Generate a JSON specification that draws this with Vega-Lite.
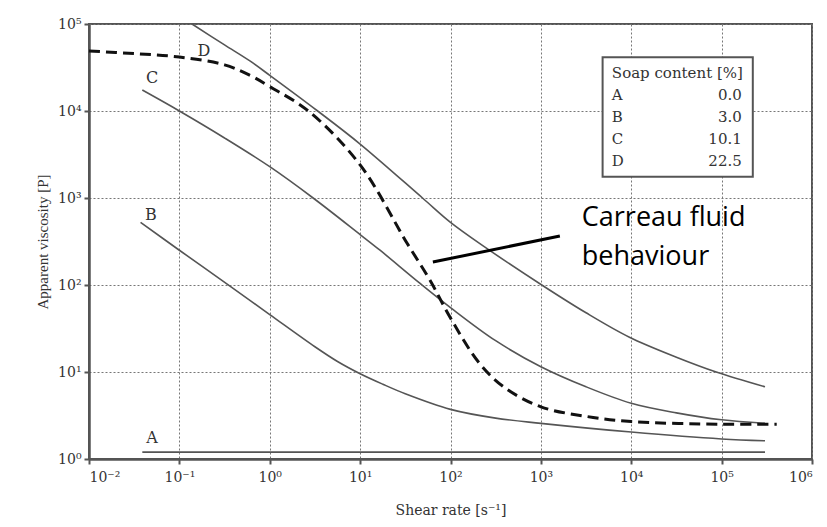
{
  "$schema": "https://vega.github.io/schema/vega-lite/v6.json",
  "width": 723,
  "height": 435,
  "autosize": {"type": "none"},
  "padding": {"left": 89, "top": 24, "right": 15, "bottom": 68},
  "background": "white",
  "config": {
    "view": {"stroke": "#555", "strokeWidth": 2},
    "axis": {
      "labelFont": "DejaVu Serif",
      "labelFontSize": 14,
      "labelColor": "#333",
      "titleFont": "Liberation Serif",
      "titleFontSize": 15,
      "titleFontWeight": "normal",
      "titleColor": "#333",
      "domainColor": "#555",
      "domainWidth": 2.5,
      "tickColor": "#555",
      "tickWidth": 2,
      "tickSize": 5,
      "grid": true,
      "gridColor": "#777",
      "gridDash": [2, 2],
      "gridWidth": 1
    }
  },
  "datasets": {
    "curves": [
      {"series": "A", "x": 0.0389, "y": 1.2},
      {"series": "A", "x": 302000, "y": 1.2},
      {"series": "B", "x": 0.0372, "y": 525},
      {"series": "B", "x": 0.1, "y": 251},
      {"series": "B", "x": 0.363, "y": 97},
      {"series": "B", "x": 1, "y": 45.7},
      {"series": "B", "x": 3.16, "y": 19.5},
      {"series": "B", "x": 5.62, "y": 13.2},
      {"series": "B", "x": 10, "y": 9.55},
      {"series": "B", "x": 17.8, "y": 7.24},
      {"series": "B", "x": 31.6, "y": 5.62},
      {"series": "B", "x": 100, "y": 3.72},
      {"series": "B", "x": 316, "y": 2.95},
      {"series": "B", "x": 1000, "y": 2.57},
      {"series": "B", "x": 10000, "y": 2.04},
      {"series": "B", "x": 100000, "y": 1.70},
      {"series": "B", "x": 302000, "y": 1.62},
      {"series": "C", "x": 0.0389, "y": 17400},
      {"series": "C", "x": 0.1, "y": 10000},
      {"series": "C", "x": 0.316, "y": 4900},
      {"series": "C", "x": 1, "y": 2290},
      {"series": "C", "x": 3.02, "y": 1000},
      {"series": "C", "x": 10, "y": 380},
      {"series": "C", "x": 16.6, "y": 251},
      {"series": "C", "x": 45.7, "y": 105},
      {"series": "C", "x": 100, "y": 55},
      {"series": "C", "x": 316, "y": 22.9},
      {"series": "C", "x": 1000, "y": 11.5},
      {"series": "C", "x": 3162, "y": 6.76},
      {"series": "C", "x": 10000, "y": 4.37},
      {"series": "C", "x": 31600, "y": 3.39},
      {"series": "C", "x": 100000, "y": 2.82},
      {"series": "C", "x": 302000, "y": 2.57},
      {"series": "D", "x": 0.138, "y": 100000},
      {"series": "D", "x": 0.316, "y": 57500},
      {"series": "D", "x": 0.603, "y": 37600},
      {"series": "D", "x": 1, "y": 25700},
      {"series": "D", "x": 3.39, "y": 10000},
      {"series": "D", "x": 10, "y": 4170},
      {"series": "D", "x": 49, "y": 1000},
      {"series": "D", "x": 100, "y": 525},
      {"series": "D", "x": 245, "y": 269},
      {"series": "D", "x": 1023, "y": 100},
      {"series": "D", "x": 3162, "y": 47.9},
      {"series": "D", "x": 9550, "y": 25.1},
      {"series": "D", "x": 31600, "y": 14.8},
      {"series": "D", "x": 87100, "y": 10},
      {"series": "D", "x": 302000, "y": 6.76}
    ],
    "carreau": [
      {"x": 0.01, "y": 49000},
      {"x": 0.0316, "y": 45700},
      {"x": 0.1, "y": 41700},
      {"x": 0.316, "y": 33900},
      {"x": 0.603, "y": 25700},
      {"x": 1, "y": 19100},
      {"x": 2.75, "y": 9770},
      {"x": 10, "y": 2400},
      {"x": 33.1, "y": 302},
      {"x": 58.9, "y": 115},
      {"x": 100, "y": 41.7},
      {"x": 209, "y": 12.6},
      {"x": 398, "y": 6.61},
      {"x": 1000, "y": 3.98},
      {"x": 3162, "y": 3.09},
      {"x": 10000, "y": 2.69},
      {"x": 100000, "y": 2.51},
      {"x": 407000, "y": 2.51}
    ],
    "curveLabels": [
      {"t": "A", "x": 0.0498, "y": 1.74},
      {"t": "B", "x": 0.0485, "y": 638},
      {"t": "C", "x": 0.0498, "y": 23900},
      {"t": "D", "x": 0.187, "y": 48900}
    ],
    "annotLine": [{"x": 63.8, "y": 183.6, "x2": 1622, "y2": 365.6}],
    "annotText": [
      {"t": "Carreau fluid", "x": 2838, "y": 476},
      {"t": "behaviour", "x": 2838, "y": 170}
    ],
    "legendBox": [{"x": 4820, "x2": 221300, "y": 41400, "y2": 1758}],
    "legendLeft": [
      {"t": "Soap content [%]", "x": 6100, "y": 23950},
      {"t": "A", "x": 6100, "y": 13370},
      {"t": "B", "x": 6100, "y": 7480},
      {"t": "C", "x": 6100, "y": 4180},
      {"t": "D", "x": 6100, "y": 2335}
    ],
    "legendRight": [
      {"t": "0.0", "x": 167100, "y": 13370},
      {"t": "3.0", "x": 167100, "y": 7480},
      {"t": "10.1", "x": 167100, "y": 4180},
      {"t": "22.5", "x": 167100, "y": 2335}
    ]
  },
  "layer": [
    {
      "data": {"name": "curves"},
      "mark": {"type": "line", "color": "#555", "strokeWidth": 1.6, "interpolate": "catmull-rom"},
      "encoding": {
        "x": {
          "field": "x", "type": "quantitative",
          "scale": {"type": "log", "domain": [0.01, 1000000], "nice": false},
          "axis": {
            "values": [0.01, 0.1, 1, 10, 100, 1000, 10000, 100000, 1000000],
            "labelExpr": "['10⁻²','10⁻¹','10⁰','10¹','10²','10³','10⁴','10⁵','10⁶'][round(log(datum.value)/LN10)+2]",
            "title": "Shear rate [s⁻¹]",
            "titleFont": "DejaVu Serif",
            "titleFontSize": 14,
            "labelPadding": 6,
            "titlePadding": 19
          }
        },
        "y": {
          "field": "y", "type": "quantitative",
          "scale": {"type": "log", "domain": [1, 100000], "nice": false},
          "axis": {
            "values": [1, 10, 100, 1000, 10000, 100000],
            "labelExpr": "['10⁰','10¹','10²','10³','10⁴','10⁵'][round(log(datum.value)/LN10)]",
            "title": "Apparent viscosity [P]",
            "labelPadding": 3,
            "titlePadding": 7
          }
        },
        "detail": {"field": "series"}
      }
    },
    {
      "data": {"name": "carreau"},
      "mark": {"type": "line", "color": "#111", "strokeWidth": 3, "strokeDash": [11, 6], "interpolate": "catmull-rom"},
      "encoding": {
        "x": {"field": "x", "type": "quantitative"},
        "y": {"field": "y", "type": "quantitative"}
      }
    },
    {
      "data": {"name": "annotLine"},
      "mark": {"type": "rule", "color": "#000", "strokeWidth": 3},
      "encoding": {
        "x": {"field": "x", "type": "quantitative"},
        "y": {"field": "y", "type": "quantitative"},
        "x2": {"field": "x2"},
        "y2": {"field": "y2"}
      }
    },
    {
      "data": {"name": "legendBox"},
      "mark": {"type": "rect", "fill": "white", "stroke": "#555", "strokeWidth": 2},
      "encoding": {
        "x": {"field": "x", "type": "quantitative"},
        "y": {"field": "y", "type": "quantitative"},
        "x2": {"field": "x2"},
        "y2": {"field": "y2"}
      }
    },
    {
      "data": {"name": "legendLeft"},
      "mark": {"type": "text", "align": "left", "baseline": "alphabetic", "font": "DejaVu Serif", "fontSize": 15, "color": "#333"},
      "encoding": {
        "x": {"field": "x", "type": "quantitative"},
        "y": {"field": "y", "type": "quantitative"},
        "text": {"field": "t"}
      }
    },
    {
      "data": {"name": "legendRight"},
      "mark": {"type": "text", "align": "right", "baseline": "alphabetic", "font": "DejaVu Serif", "fontSize": 15, "color": "#333"},
      "encoding": {
        "x": {"field": "x", "type": "quantitative"},
        "y": {"field": "y", "type": "quantitative"},
        "text": {"field": "t"}
      }
    },
    {
      "data": {"name": "curveLabels"},
      "mark": {"type": "text", "align": "center", "baseline": "middle", "font": "DejaVu Serif", "fontSize": 16, "color": "#333"},
      "encoding": {
        "x": {"field": "x", "type": "quantitative"},
        "y": {"field": "y", "type": "quantitative"},
        "text": {"field": "t"}
      }
    },
    {
      "data": {"name": "annotText"},
      "mark": {"type": "text", "align": "left", "baseline": "alphabetic", "font": "Open Sans", "fontSize": 27, "color": "#000"},
      "encoding": {
        "x": {"field": "x", "type": "quantitative"},
        "y": {"field": "y", "type": "quantitative"},
        "text": {"field": "t"}
      }
    }
  ]
}
